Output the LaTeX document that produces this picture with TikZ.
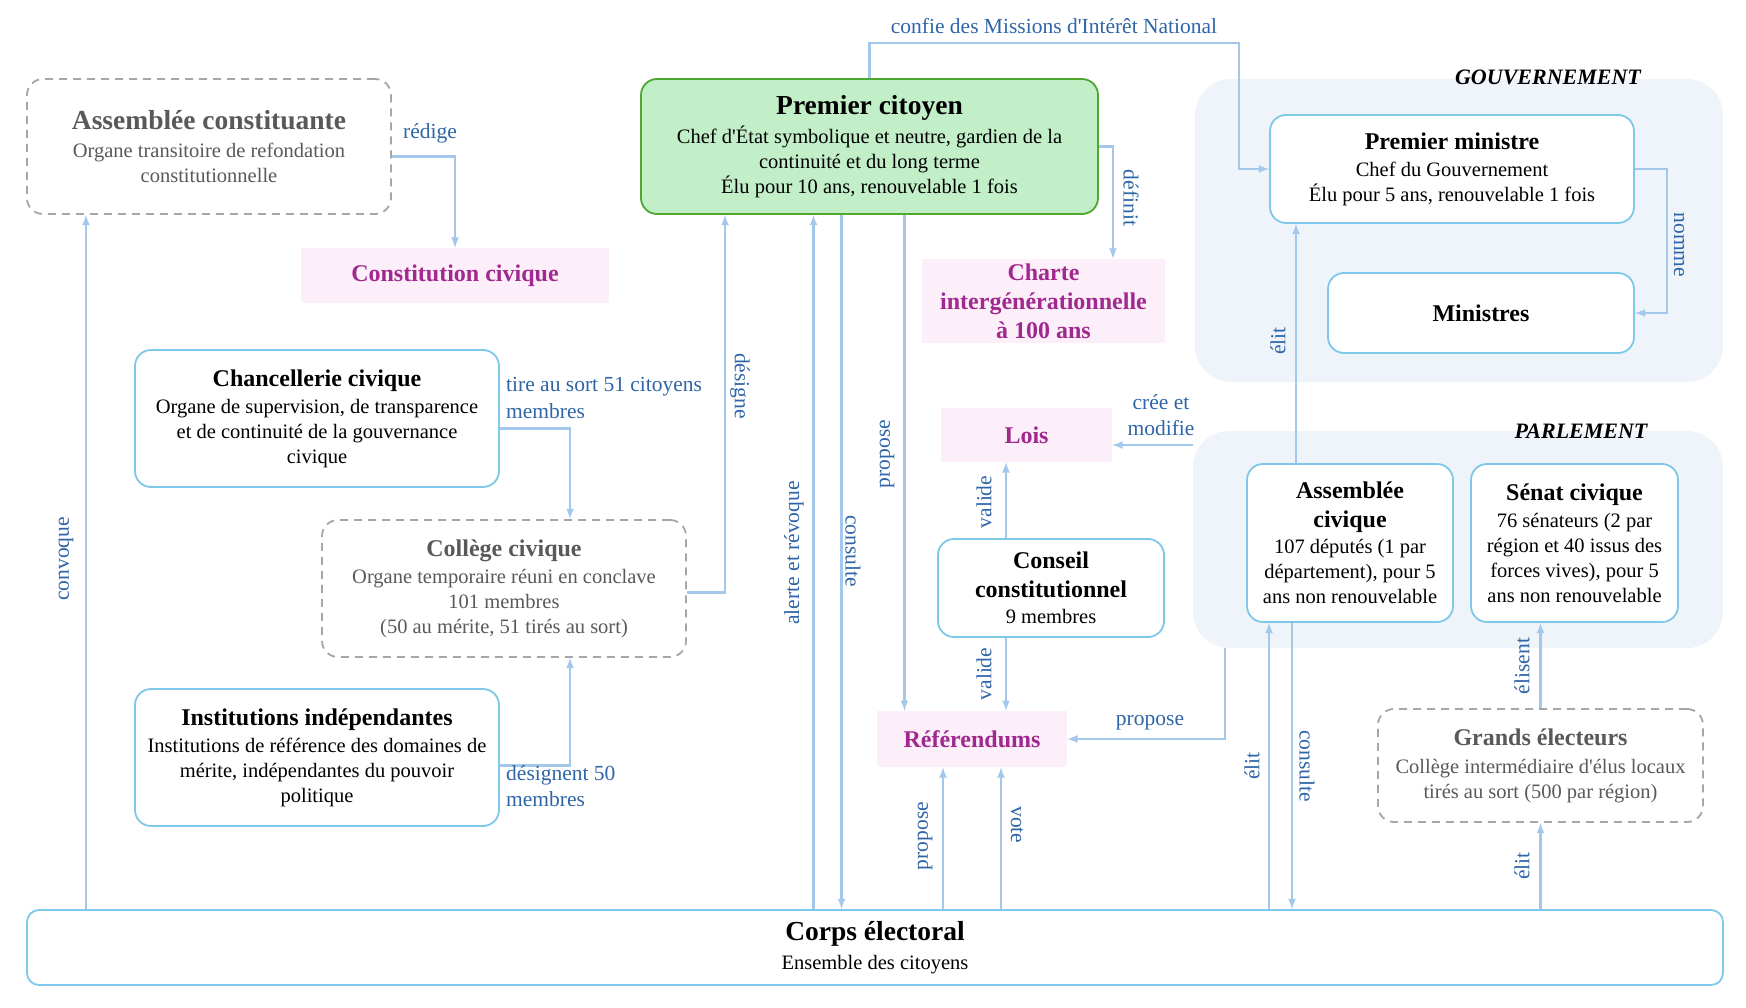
\documentclass[tikz,border=0pt]{standalone}
\usepackage{fontspec}
\setmainfont{Liberation Serif}
\usetikzlibrary{arrows,positioning}

\definecolor{arrowblue}{HTML}{A3C8EC}
\definecolor{lblblue}{HTML}{2F65A7}
\definecolor{boxblue}{HTML}{7EC8EA}
\definecolor{dashgray}{HTML}{A6A6A6}
\definecolor{txtgray}{HTML}{595959}
\definecolor{pcfill}{HTML}{C3EFC8}
\definecolor{pcline}{HTML}{4EA830}
\definecolor{prodfill}{HTML}{FCEFF9}
\definecolor{prodtxt}{HTML}{A0288E}
\definecolor{grpfill}{HTML}{EEF4FA}

\newcommand{\bdy}{\fontsize{20.5}{25}\selectfont}
\newcommand{\ttl}{\fontsize{24}{29}\selectfont\bfseries}
\newcommand{\bigttl}{\fontsize{27.5}{32}\selectfont\bfseries}
\newcommand{\lblf}{\fontsize{21.5}{26.5}\selectfont}
\newcommand{\grpf}{\fontsize{22}{26}\selectfont\bfseries\itshape}
\newcommand{\apo}{\textquotesingle}

\tikzset{
  box/.style={draw=boxblue, line width=1.8pt, rounded corners=16pt, fill=white, align=center, inner sep=0pt, font=\bdy},
  dbox/.style={box, draw=dashgray, dash pattern=on 8pt off 6pt, text=txtgray},
  prod/.style={fill=prodfill, text=prodtxt, align=center, inner sep=0pt, font=\ttl},
  grp/.style={fill=grpfill, rounded corners=36pt, inner sep=0pt},
  arr/.style={->, >=latex, draw=arrowblue, line width=2.5pt},
  lbl/.style={text=lblblue, font=\lblf, inner sep=1pt},
  grplbl/.style={font=\grpf},
}

\begin{document}
\begin{tikzpicture}[x=1pt,y=-1pt]
\useasboundingbox (0,0) rectangle (1746,1008);

%Groups
\node [grp, minimum width=528pt, minimum height=303pt] (gouv) at (1459,230.5) {};
\node [grp, minimum width=530pt, minimum height=217pt] (parl) at (1458,539.5) {};
\node [grplbl] (gouvlbl) at (1548,77) {GOUVERNEMENT};
\node [grplbl] (parllbl) at (1581,431) {PARLEMENT};

%Boxes
\node [dbox, minimum width=364pt, minimum height=135pt] (ac) at (209,146.5)
  {{\bigttl Assemblée constituante}\\[3pt]Organe transitoire de refondation\\constitutionnelle};
\node [prod, minimum width=308pt, minimum height=55pt] (cons) at (455,275.5) {Constitution civique};
\node [box, draw=pcline, fill=pcfill, minimum width=457pt, minimum height=135pt] (pc) at (869.5,146.5)
  {{\bigttl Premier citoyen}\\[4pt]Chef d\apo État symbolique et neutre, gardien de la\\continuité et du long terme\\Élu pour 10 ans, renouvelable 1 fois};
\node [prod, minimum width=243pt, minimum height=84pt] (charte) at (1043.5,301)
  {Charte\\intergénérationnelle\\à 100 ans};
\node [box, minimum width=364pt, minimum height=108pt] (pm) at (1452,169)
  {{\ttl Premier ministre}\\[2pt]Chef du Gouvernement\\Élu pour 5 ans, renouvelable 1 fois};
\node [box, minimum width=306pt, minimum height=80pt] (min) at (1481,313) {\ttl Ministres};
\node [box, minimum width=364pt, minimum height=137pt] (chanc) at (317,418.5)
  {{\ttl Chancellerie civique}\\[2pt]Organe de supervision, de transparence\\et de continuité de la gouvernance\\civique};
\node [dbox, minimum width=364pt, minimum height=137pt] (coll) at (504,588.5)
  {{\ttl Collège civique}\\[2pt]Organe temporaire réuni en conclave\\101 membres\\(50 au mérite, 51 tirés au sort)};
\node [box, minimum width=364pt, minimum height=137pt] (inst) at (317,757.5)
  {{\ttl Institutions indépendantes}\\[2pt]Institutions de référence des domaines de\\mérite, indépendantes du pouvoir\\politique};
\node [prod, minimum width=171pt, minimum height=54pt] (lois) at (1026.5,435) {Lois};
\node [box, minimum width=226pt, minimum height=98pt] (cc) at (1051,588)
  {{\ttl Conseil}\\[4pt]{\ttl constitutionnel}\\[1pt]9 membres};
\node [prod, minimum width=190pt, minimum height=56pt] (ref) at (972,739) {Référendums};
\node [box, minimum width=206pt, minimum height=158pt] (acv) at (1350,543)
  {{\ttl Assemblée}\\[4pt]{\ttl civique}\\[1pt]107 députés (1 par\\département), pour 5\\ans non renouvelable};
\node [box, minimum width=207pt, minimum height=158pt] (senat) at (1574.5,543)
  {{\ttl Sénat civique}\\[2pt]76 sénateurs (2 par\\région et 40 issus des\\forces vives), pour 5\\ans non renouvelable};
\node [dbox, minimum width=325pt, minimum height=113pt] (ge) at (1540.5,765.5)
  {{\ttl Grands électeurs}\\[3pt]Collège intermédiaire d\apo élus locaux\\tirés au sort (500 par région)};
\node [box, rounded corners=12pt, minimum width=1696pt, minimum height=75pt] (corps) at (875,947.5)
  {{\bigttl Corps électoral}\\[4pt]Ensemble des citoyens};

%Lanes
\coordinate (cvq) at ([xshift=-123pt]ac.south);
\coordinate (alr) at ([xshift=-56pt]pc.south);
\coordinate (cst) at ([xshift=-28pt]pc.south);
\coordinate (prp) at ([xshift=35pt]pc.south);
\coordinate (rp) at ([xshift=-29pt]ref.south);
\coordinate (rv) at ([xshift=29pt]ref.south);
\coordinate (vl1) at ([xshift=-45pt]cc.north);
\coordinate (vl2) at ([xshift=-45pt]cc.south);
\coordinate (ae) at ([xshift=-81pt]acv.south);
\coordinate (ac2) at ([xshift=-58pt]acv.south);
\coordinate (ap) at ([xshift=-54pt]acv.north);
\coordinate (pp) at ([xshift=32pt]parl.south west);

%Arrows
\draw [arr] ([yshift=-10pt]ac.east) -| (cons.north);
\draw [arr] (corps.north -| cvq) -- (cvq);
\draw [arr] (pc.north) -- ++(0,-35) -| ([xshift=-30pt]pm.west) -- (pm.west);
\draw [arr] (pc.east) -| ([xshift=69.5pt]charte.north);
\draw [arr] (pm.east) -- ++(32,0) |- (min.east);
\draw [arr] (ap) -- (pm.south -| ap);
\draw [arr] ([yshift=-10pt]chanc.east) -| ([xshift=66pt]coll.north);
\draw [arr] ([yshift=-8pt]inst.east) -| ([xshift=66pt]coll.south);
\draw [arr] ([yshift=-4pt]coll.east) -| ([xshift=-144.5pt]pc.south);
\draw [arr] (corps.north -| alr) -- (alr);
\draw [arr] (cst) -- (corps.north -| cst);
\draw [arr] (prp) -- (ref.north -| prp);
\draw [arr] ([yshift=-10pt]lois.east -| parl.west) -- ([yshift=-10pt]lois.east);
\draw [arr] (vl1) -- (lois.south -| vl1);
\draw [arr] (vl2) -- (ref.north -| vl2);
\draw [arr] (pp) |- (ref.east);
\draw [arr] (corps.north -| rp) -- (rp);
\draw [arr] (corps.north -| rv) -- (rv);
\draw [arr] (corps.north -| ae) -- (ae);
\draw [arr] (ac2) -- (corps.north -| ac2);
\draw [arr] (ge.north) -- (senat.south -| ge.north);
\draw [arr] (corps.north -| ge.south) -- (ge.south);

%Labels
\node [lbl] (lredige) at (430,133) {rédige};
\node [lbl] (lconfie) at (1054,26) {confie des Missions d\apo Intérêt National};
\node [lbl, rotate=-90] (ldefinit) at (1131,198) {définit};
\node [lbl, rotate=-90] (lnomme) at (1679,245) {nomme};
\node [lbl, rotate=90] (lelitpm) at (1278,341) {élit};
\node [lbl, anchor=west, align=left] (ltire) at (505,398) {tire au sort 51 citoyens\\membres};
\node [lbl, rotate=-90] (ldesigne) at (740,386) {désigne};
\node [lbl, rotate=90] (lalerte) at (794,553) {alerte et révoque};
\node [lbl, rotate=-90] (lconsulte) at (853,551) {consulte};
\node [lbl, rotate=90] (lpropose) at (887,454) {propose};
\node [lbl, align=center] (lcree) at (1161,415) {crée et\\modifie};
\node [lbl, rotate=90] (lvalide) at (984,502) {valide};
\node [lbl, rotate=90] (lvalide2) at (984,674) {valide};
\node [lbl] (lpropparl) at (1150,723) {propose};
\node [lbl, anchor=west, align=left] (ldesignent) at (505,786) {désignent 50\\membres};
\node [lbl, rotate=90] (lconvoque) at (66,559) {convoque};
\node [lbl, rotate=90] (lpropcorps) at (925,836) {propose};
\node [lbl, rotate=-90] (lvote) at (1017,825) {vote};
\node [lbl, rotate=90] (lelitac) at (1252,766) {élit};
\node [lbl, rotate=-90] (lconsac) at (1307,766) {consulte};
\node [lbl, rotate=90] (lelisent) at (1522,666) {élisent};
\node [lbl, rotate=90] (lelitge) at (1522,866) {élit};
\end{tikzpicture}
\end{document}
